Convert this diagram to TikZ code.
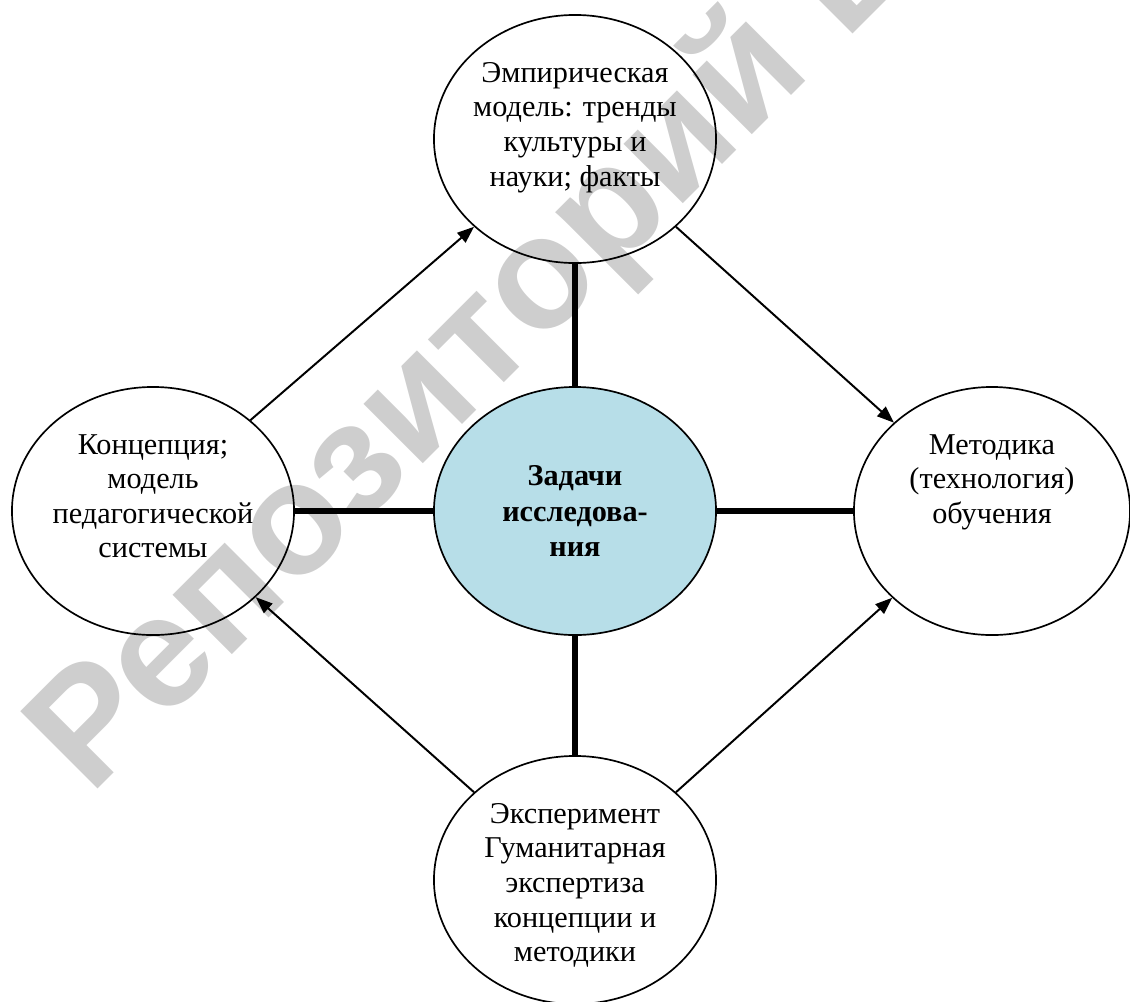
\documentclass[tikz,border=0pt]{standalone}
\usepackage{fontspec}
\setmainfont{Liberation Serif}
\newfontfamily\wmfont{Liberation Sans}
\usetikzlibrary{shapes.geometric, arrows.meta, positioning}
\definecolor{taskfill}{RGB}{183,222,232}
\definecolor{wmgray}{RGB}{206,206,206}
\tikzset{
  bubble/.style={draw, ellipse, line width=1.2pt, minimum width=7.05cm, minimum height=6.2cm, inner sep=0pt},
  bubbletext/.style={align=center, font=\fontsize{21.5}{24.6}\selectfont, inner sep=0pt},
  link/.style={line width=4.2pt},
  flow/.style={line width=1.4pt, -{Triangle[length=12pt, width=9pt]}},
}

\begin{document}
\begin{tikzpicture}[x=0.025cm, y=-0.025cm]
\useasboundingbox (0,0) rectangle (1130,1001);
\begin{scope}
\clip (0,0) rectangle (1130,1001);
\node[font=\wmfont\bfseries\fontsize{113}{113}\selectfont, text=wmgray, rotate=45, anchor=base west, inner sep=0pt] (wm) at (90,797) {Репозиторий ВГУ};
\end{scope}

\node[bubble, fill=taskfill, align=center, font=\bfseries\fontsize{21.5}{25}\selectfont] (zad) at (575,511) {Задачи\\исследова-\\ния};
\node[bubble] (emp) at (575,139) {};
\node[bubble] (kon) at (153,511) {};
\node[bubble, minimum width=6.9cm] (met) at (992,511) {};
\node[bubble] (eks) at (575,880) {};

\node[bubbletext, below=34pt of emp.north] (emp-t) {Эмпирическая\\модель: тренды\\культуры и\\науки; факты};
\node[bubbletext, below=34pt of kon.north] (kon-t) {Концепция;\\модель\\педагогической\\системы};
\node[bubbletext, below=34pt of met.north] (met-t) {Методика\\(технология)\\обучения};
\node[bubbletext, below=34pt of eks.north] (eks-t) {Эксперимент\\Гуманитарная\\экспертиза\\концепции и\\методики};

\draw[link] (zad) -- (emp);
\draw[link] (zad) -- (eks);
\draw[link] (zad) -- (kon);
\draw[link] (zad) -- (met);

\draw[flow] (kon.43) -- (emp.221);
\draw[flow] (emp.-41) -- (met.138);
\draw[flow] (eks.139) -- (kon.-40);
\draw[flow] (eks.41) -- (met.-139);
\end{tikzpicture}
\end{document}
